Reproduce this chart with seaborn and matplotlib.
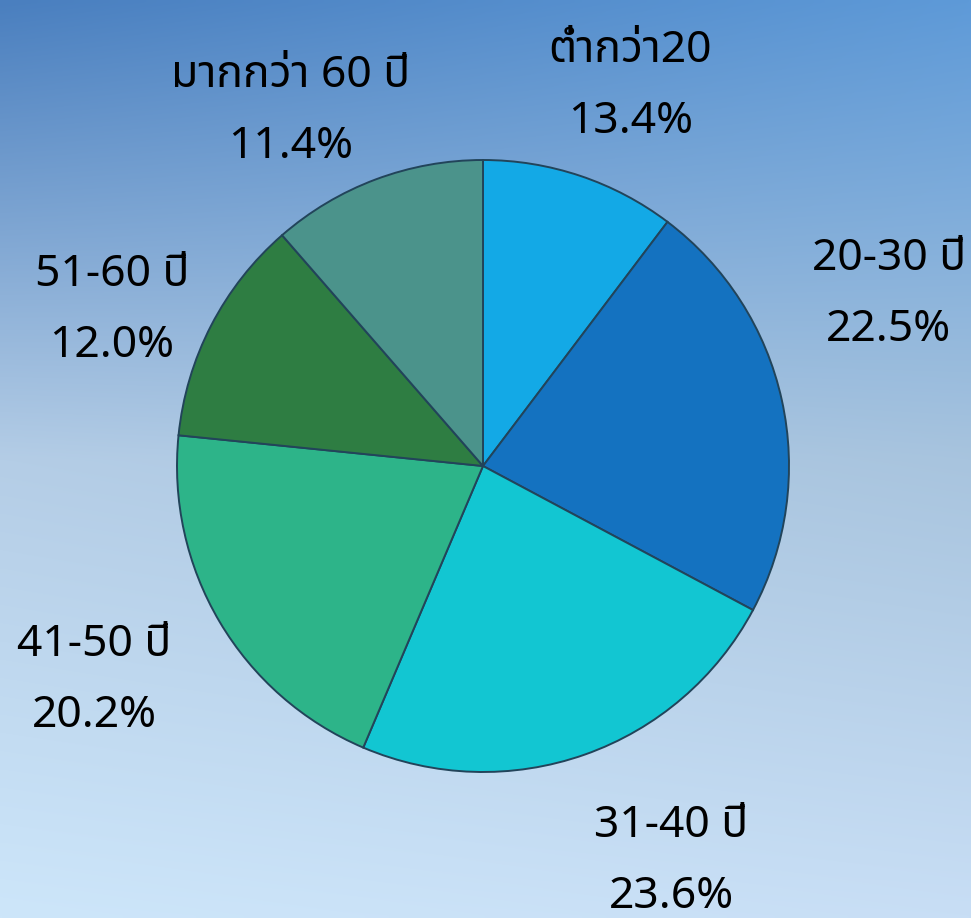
import numpy as np
import matplotlib
matplotlib.use("Agg")
import matplotlib.pyplot as plt
import seaborn as sns

# age groups, slice shares as drawn, and printed percent labels
age_groups = ["ต่ำกว่า20", "20-30 ปี", "31-40 ปี", "41-50 ปี", "51-60 ปี", "มากกว่า 60 ปี"]
shares = [10.3, 22.5, 23.6, 20.2, 12.0, 11.4]
pct_labels = ["13.4%", "22.5%", "23.6%", "20.2%", "12.0%", "11.4%"]

slice_colors = ["#13a9e6", "#1472c0", "#12c6d2", "#2db489", "#2e7d42", "#4b938b"]

sns.set_theme(style="white")
plt.rcParams["font.family"] = ["Noto Sans Thai", "DejaVu Sans"]

W, H = 971, 918
fig = plt.figure(figsize=(W / 100, H / 100), dpi=100)
ax = fig.add_axes([0, 0, 1, 1])

# background gradient: dark blue top-left, light blue at the bottom
rows = np.array([
    [[74, 127, 191], [94, 154, 216]],
    [[180, 205, 230], [168, 196, 222]],
    [[205, 230, 250], [200, 222, 245]],
]) / 255.0
ty = np.linspace(0, 2, 200)[:, None, None]
tx = np.linspace(0, 1, 200)[None, :, None]
i0 = np.clip(np.floor(ty).astype(int), 0, 1)
fy = ty - i0
top = rows[i0[..., 0], 0] * (1 - tx) + rows[i0[..., 0], 1] * tx
bot = rows[i0[..., 0] + 1, 0] * (1 - tx) + rows[i0[..., 0] + 1, 1] * tx
bg = top * (1 - fy) + bot * fy
ax.imshow(bg, extent=[0, W, 0, H], origin="upper", interpolation="bilinear",
          aspect="auto", zorder=0)

cx, cy, r = 483, H - 466, 306
wedges, _ = ax.pie(shares, colors=slice_colors, startangle=90, counterclock=False,
                   center=(cx, cy), radius=r, frame=True,
                   wedgeprops=dict(edgecolor="#22445a", linewidth=1.4))
for w in wedges:
    w.set_zorder(2)

# label distance (in radii) and angular nudge (deg) per slice
label_dist = [1.33, 1.44, 1.43, 1.45, 1.315, 1.32]
label_nudge = [-2.7, 10.5, 6, -1.7, 4.6, 8]
for w, name, pct, d, nd in zip(wedges, age_groups, pct_labels, label_dist, label_nudge):
    ang = np.deg2rad((w.theta1 + w.theta2) / 2 + nd)
    ax.text(cx + d * r * np.cos(ang), cy + d * r * np.sin(ang), f"{name}\n{pct}",
            ha="center", va="center", fontsize=32, linespacing=1.82,
            color="black", zorder=3)

ax.set_xlim(0, W)
ax.set_ylim(0, H)
ax.set_aspect("auto")
ax.axis("off")
fig.savefig("out.png", dpi=100)
